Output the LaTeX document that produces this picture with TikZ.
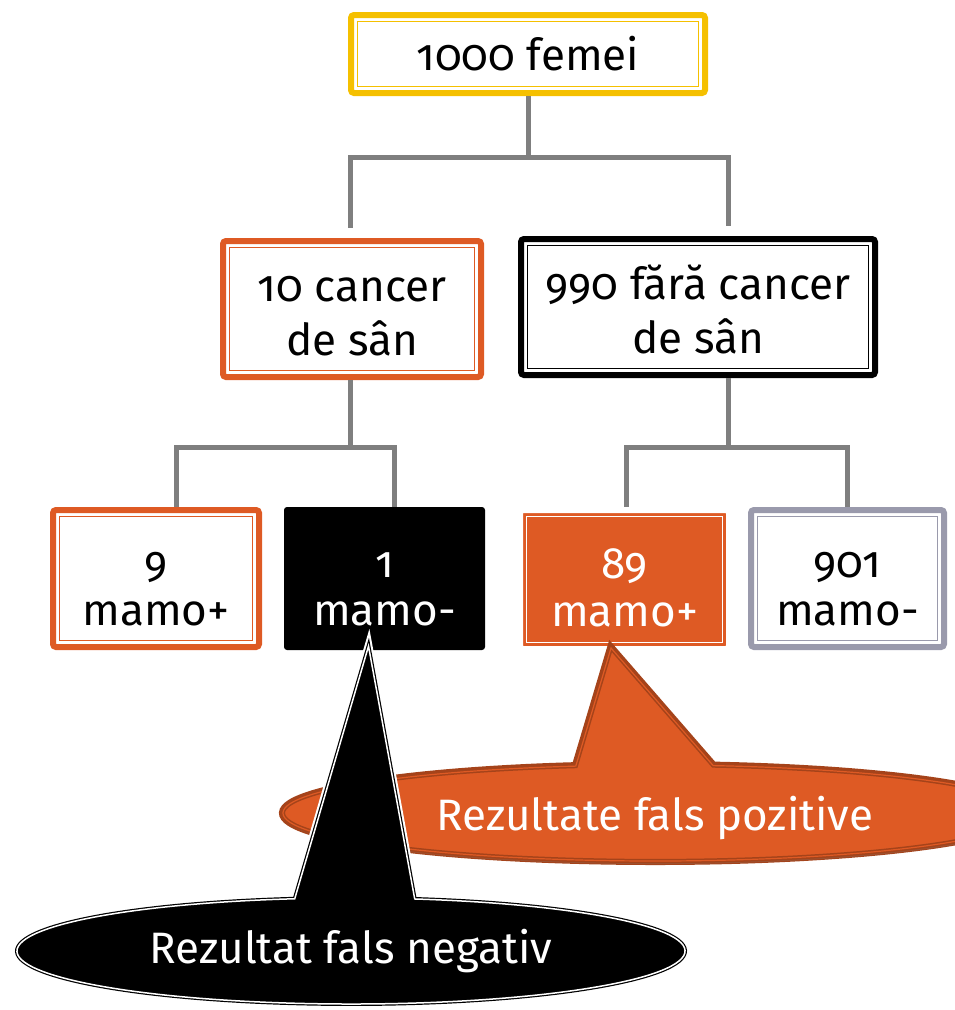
\documentclass[tikz,border=0pt]{standalone}
\usepackage{fontspec}
\setmainfont{Fira Sans}[Numbers=OldStyle]
\usetikzlibrary{shadows}
\definecolor{ocolor}{RGB}{222,90,36}
\definecolor{odark}{RGB}{165,67,26}
\definecolor{ycolor}{RGB}{245,192,0}
\definecolor{lcolor}{RGB}{127,127,127}
\definecolor{gcolor}{RGB}{154,154,172}
\newcommand\topstrut[1]{\rule{0pt}{#1pt}}
\tikzset{
  framebox/.style={draw=#1, line width=6pt, rounded corners=3pt, fill=white,
    path picture={\draw[#1, line width=1.5pt, sharp corners]
      ([shift={(6.5pt,6.5pt)}]path picture bounding box.south west) rectangle
      ([shift={(-6.5pt,-6.5pt)}]path picture bounding box.north east);}},
  txt/.style={align=center, font=\fontsize{44}{54}\selectfont, inner sep=0pt},
  lowtxt/.style={txt, font=\fontsize{44}{48}\selectfont},
  conn/.style={lcolor, line width=5pt},
}
\begin{document}
\begin{tikzpicture}[x=1pt,y=1pt]
  \useasboundingbox (0,0) rectangle (955,-1010);
  \clip (0,0) rectangle (955,-1010);
  % tree boxes
  \node[framebox=ycolor, txt, minimum width=354, minimum height=78] (top) at (528,-54) {1000 femei};
  \node[framebox=ocolor, txt, minimum width=258, minimum height=136] (can) at (352,-309) {\topstrut{40}10 cancer\\de sân};
  \node[framebox=black, txt, minimum width=354, minimum height=136] (nocan) at (698,-307) {\topstrut{40}990 fără cancer\\de sân};
  \node[framebox=ocolor, lowtxt, minimum width=206, minimum height=137] (pos9) at (156,-578.5) {\topstrut{46}9\\mamo+};
  \node[fill=black, text=white, rounded corners=3pt, lowtxt, minimum width=201, minimum height=143] (neg1) at (384.5,-578.5) {\topstrut{46}1\\mamo-};
  \node[framebox=white, fill=ocolor, text=white, lowtxt, drop shadow={opacity=0.35, shadow xshift=1pt, shadow yshift=-2pt},
    minimum width=209, minimum height=139] (pos89) at (624.5,-579.5) {\topstrut{46}89\\mamo+};
  \node[framebox=gcolor, lowtxt, minimum width=193, minimum height=137] (neg901) at (847.5,-578.5) {\topstrut{46}901\\mamo-};
  % connectors
  \draw[conn] (top.south) -- ++(0,-61) -| ([xshift=-2pt,yshift=10pt]can.north);
  \draw[conn] (top.south) -- ++(0,-61) -| ([xshift=30pt,yshift=10pt]nocan.north);
  \draw[conn] ([xshift=-2pt]can.south) -- ++(0,-67) -| ([xshift=20pt]pos9.north);
  \draw[conn] ([xshift=-2pt]can.south) -- ++(0,-67) -| ([xshift=9.5pt]neg1.north);
  \draw[conn] ([xshift=30pt]nocan.south) -- ++(0,-69) -| ([xshift=1.5pt]pos89.north);
  \draw[conn] ([xshift=30pt]nocan.south) -- ++(0,-69) -| (neg901.north);
  % callout for false positives
  \coordinate (posc) at (655,-813);
  \coordinate (postip) at ([xshift=-13.5pt,yshift=4pt]pos89.south);
  \draw[fill=ocolor, draw=odark, double=ocolor, line width=1.5pt, double distance=1.2pt,
    preaction={draw=odark, line width=8pt}, drop shadow={opacity=0.25, shadow xshift=1pt, shadow yshift=-3pt}]
    ([shift={(102.3:372pt and 48pt)}]posc) -- (postip) -- ([shift={(81:372pt and 48pt)}]posc)
    arc[start angle=81, end angle=-257.7, x radius=372pt, y radius=48pt] -- cycle;
  \node[txt, text=white] (postxt) at ([yshift=-5pt]posc) {Rezultate fals pozitive};
  % callout for false negatives
  \coordinate (negc) at (351,-951);
  \coordinate (negtip) at ([xshift=-16pt,yshift=4pt]neg1.south);
  \draw[fill=black, draw=black, double=white, line width=1.2pt, double distance=1.5pt,
    drop shadow={opacity=0.3, shadow xshift=1pt, shadow yshift=-3pt}, preaction={draw=white, line width=8pt}]
    ([shift={(99.7:334pt and 53pt)}]negc) -- (negtip) -- ([shift={(79:334pt and 53pt)}]negc)
    arc[start angle=79, end angle=-260.3, x radius=334pt, y radius=53pt] -- cycle;
  \node[txt, text=white] (negtxt) at (negc) {Rezultat fals negativ};
\end{tikzpicture}
\end{document}
